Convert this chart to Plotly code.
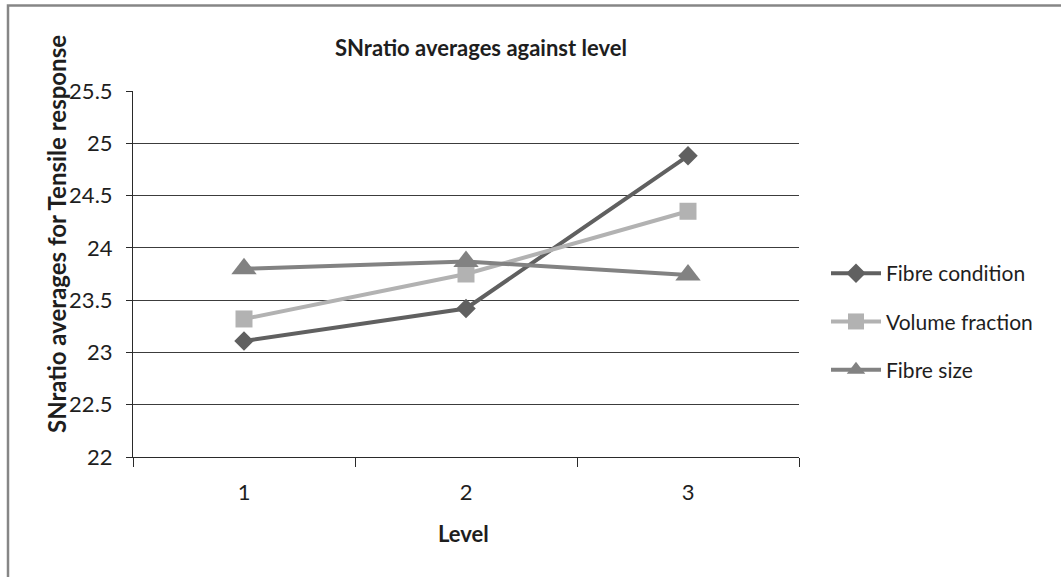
import plotly.graph_objects as go

# Taguchi S/N ratio averages for tensile response at each factor level
levels = ["1", "2", "3"]
fibre_condition = [23.11, 23.42, 24.88]
volume_fraction = [23.32, 23.75, 24.35]
fibre_size = [23.80, 23.87, 23.74]

y_ticks = [22, 22.5, 23, 23.5, 24, 24.5, 25, 25.5]
y_tick_text = ["22", "22.5", "23", "23.5", "24", "24.5", "25", "25.5"]

FONT = "Lato"
TEXT = "#1e1e1e"

# plot-area geometry in pixels
W, H = 1061, 577
L, R, T, B = 133, 799, 91, 457


def px_x(p):
    return (p - L) / (R - L)


def px_y(p):
    return (B - p) / (B - T)


series = [
    ("Fibre condition", fibre_condition, "#606060", "diamond", 15),
    ("Volume fraction", volume_fraction, "#b2b2b2", "square", 17),
    ("Fibre size", fibre_size, "#828282", "triangle-up", 22),
]

fig = go.Figure()
for i, (name, vals, color, symbol, size) in enumerate(series):
    fig.add_trace(go.Scatter(
        x=levels, y=vals, name=name, mode="lines+markers",
        line=dict(color=color, width=4),
        marker=dict(symbol=symbol, size=size, color=color),
        legendgroup=f"g{i}",
    ))

fig.update_layout(
    width=W, height=H,
    margin=dict(l=L, r=W - R, t=T, b=H - B, autoexpand=False),
    paper_bgcolor="white", plot_bgcolor="white",
    font=dict(family=FONT, size=21, color=TEXT),
    showlegend=True,
    legend=dict(
        x=px_x(826), y=px_y(253), xanchor="left", yanchor="top",
        font=dict(family=FONT, size=21, color=TEXT),
        tracegroupgap=18, traceorder="grouped", itemwidth=50,
        bgcolor="rgba(0,0,0,0)",
    ),
    xaxis=dict(
        type="category", tickson="boundaries", range=[-0.5, 2.5],
        showline=True, linecolor="#2a2a2a", linewidth=1,
        ticks="outside", ticklen=9, tickcolor="#2a2a2a", tickwidth=1,
        showgrid=False, ticklabelstandoff=16,
        tickfont=dict(family=FONT, size=22, color=TEXT),
    ),
    yaxis=dict(
        range=[22, 25.5], tickvals=y_ticks, ticktext=y_tick_text,
        showline=True, linecolor="#2a2a2a", linewidth=1,
        ticks="outside", ticklen=6, tickcolor="#2a2a2a", tickwidth=1,
        showgrid=True, gridcolor="#3c3c3c", gridwidth=1,
        zeroline=False, ticklabelstandoff=9,
        tickfont=dict(family=FONT, size=22, color=TEXT),
    ),
    shapes=[
        dict(type="rect", xref="paper", yref="paper",
             x0=px_x(8), y0=px_y(5.5), x1=px_x(W + 20), y1=px_y(H + 20),
             line=dict(color="#868686", width=2.5), fillcolor="rgba(0,0,0,0)",
             layer="below"),
    ],
    annotations=[
        dict(text="<b>SNratio averages against level</b>", xref="paper", yref="paper",
             x=px_x(481), y=px_y(47), showarrow=False, xanchor="center", yanchor="middle",
             font=dict(family=FONT, size=22, color=TEXT)),
        dict(text="<b>SNratio averages for Tensile response</b>", xref="paper", yref="paper",
             x=px_x(56), y=px_y(234), showarrow=False, textangle=-90,
             xanchor="center", yanchor="middle",
             font=dict(family=FONT, size=24, color=TEXT)),
        dict(text="<b>Level</b>", xref="paper", yref="paper",
             x=px_x(463), y=px_y(533), showarrow=False, xanchor="center", yanchor="middle",
             font=dict(family=FONT, size=22, color=TEXT)),
    ],
)

fig.write_html("out.html")
